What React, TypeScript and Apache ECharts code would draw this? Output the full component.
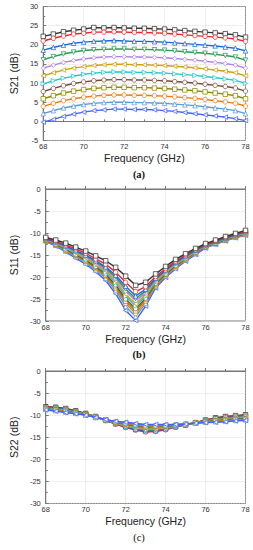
import React, { useEffect, useRef } from "react";
import * as echarts from "echarts";

const freq = [68, 68.5, 69, 69.5, 70, 70.5, 71, 71.5, 72, 72.5, 73, 73.5, 74, 74.5, 75, 75.5, 76, 76.5, 77, 77.5, 78];

const colors = ["#333333", "#e8262b", "#1f66d6", "#2a9a55", "#b07ee8", "#d0a010", "#22c6cc", "#7a4a3a", "#8a8a00", "#f07810", "#5b9bd5", "#3f60ff"];
const symbols = ["rect", "circle", "triangle", "triangle", "diamond", "triangle", "triangle", "circle", "rect", "circle", "triangle", "triangle"];
const rotations = [0, 0, 0, 180, 0, 90, -90, 0, 0, 0, 0, 90];

const s21 = [
  [22.2, 22.8, 23.4, 23.8, 24.1, 24.5, 24.4, 24.5, 24.4, 24.3, 24.3, 24.2, 24.1, 23.9, 23.7, 23.5, 23.3, 23.1, 22.9, 22.6, 22.0],
  [21.0, 21.7, 22.3, 22.8, 23.0, 23.3, 23.3, 23.4, 23.3, 23.2, 23.2, 23.1, 23.0, 22.8, 22.6, 22.4, 22.2, 22.0, 21.8, 21.5, 20.9],
  [18.6, 19.3, 19.9, 20.4, 20.7, 20.9, 21.0, 21.1, 21.0, 20.9, 20.9, 20.8, 20.7, 20.5, 20.3, 20.1, 19.9, 19.7, 19.4, 19.1, 18.4],
  [16.1, 16.9, 17.6, 18.1, 18.5, 18.7, 18.8, 18.9, 18.9, 18.8, 18.8, 18.7, 18.6, 18.4, 18.2, 18.0, 17.8, 17.5, 17.2, 16.8, 16.0],
  [13.9, 14.7, 15.4, 15.9, 16.3, 16.6, 16.8, 16.9, 16.9, 16.8, 16.8, 16.7, 16.6, 16.4, 16.2, 16.0, 15.7, 15.4, 15.1, 14.7, 13.9],
  [11.9, 12.7, 13.4, 13.9, 14.3, 14.6, 14.8, 14.9, 14.9, 14.8, 14.8, 14.7, 14.6, 14.4, 14.2, 14.0, 13.7, 13.4, 13.1, 12.7, 11.9],
  [9.8, 10.6, 11.3, 11.8, 12.3, 12.6, 12.8, 12.9, 12.9, 12.8, 12.8, 12.7, 12.6, 12.4, 12.2, 12.0, 11.7, 11.4, 11.1, 10.7, 9.9],
  [7.8, 8.6, 9.3, 9.9, 10.3, 10.6, 10.8, 10.9, 10.9, 10.8, 10.8, 10.7, 10.6, 10.4, 10.2, 10.0, 9.7, 9.4, 9.1, 8.7, 7.9],
  [5.9, 6.7, 7.4, 7.9, 8.3, 8.6, 8.8, 8.9, 8.9, 8.8, 8.8, 8.7, 8.6, 8.4, 8.2, 8.0, 7.7, 7.4, 7.1, 6.7, 5.9],
  [3.9, 4.7, 5.4, 5.9, 6.3, 6.6, 6.8, 6.9, 6.9, 6.8, 6.8, 6.7, 6.6, 6.4, 6.2, 6.0, 5.7, 5.4, 5.1, 4.7, 4.0],
  [2.0, 2.8, 3.5, 4.0, 4.4, 4.7, 4.9, 5.0, 5.0, 4.9, 4.9, 4.8, 4.7, 4.5, 4.3, 4.1, 3.8, 3.5, 3.2, 2.8, 2.0],
  [-0.2, 0.5, 1.3, 1.9, 2.4, 2.8, 3.0, 3.2, 3.2, 3.1, 3.1, 3.0, 2.8, 2.6, 2.3, 2.0, 1.7, 1.4, 1.1, 0.7, 0.2],
];

const s11 = [
  [-11.0, -11.6, -12.3, -13.2, -14.1, -15.2, -16.3, -17.8, -19.8, -21.9, -21.2, -19.3, -17.6, -16.0, -14.7, -13.5, -12.4, -11.6, -10.8, -10.1, -9.4],
  [-11.2, -11.9, -12.7, -13.6, -14.6, -15.9, -17.1, -18.9, -21.2, -23.3, -22.2, -19.9, -18.1, -16.4, -15.0, -13.8, -12.6, -11.8, -11.0, -10.3, -9.6],
  [-11.3, -12.0, -12.9, -14.0, -15.0, -16.3, -17.7, -19.6, -22.1, -24.3, -22.8, -20.3, -18.4, -16.6, -15.2, -13.9, -12.7, -11.9, -11.1, -10.4, -9.7],
  [-11.3, -12.1, -13.0, -14.1, -15.2, -16.5, -18.0, -20.0, -22.7, -24.9, -23.2, -20.5, -18.5, -16.8, -15.3, -14.0, -12.8, -12.0, -11.2, -10.5, -9.8],
  [-11.4, -12.2, -13.2, -14.3, -15.4, -16.8, -18.3, -20.4, -23.2, -25.4, -23.6, -20.7, -18.7, -16.9, -15.4, -14.1, -12.8, -12.0, -11.2, -10.5, -9.9],
  [-11.5, -12.3, -13.3, -14.5, -15.7, -17.1, -18.6, -20.9, -23.9, -26.1, -24.0, -21.0, -18.9, -17.1, -15.6, -14.2, -12.9, -12.1, -11.3, -10.6, -10.0],
  [-11.5, -12.4, -13.5, -14.7, -15.9, -17.3, -19.0, -21.3, -24.4, -26.6, -24.4, -21.2, -19.1, -17.2, -15.7, -14.3, -13.0, -12.2, -11.4, -10.7, -10.0],
  [-11.6, -12.5, -13.6, -14.9, -16.1, -17.6, -19.3, -21.8, -25.0, -27.2, -24.8, -21.4, -19.3, -17.4, -15.8, -14.4, -13.1, -12.3, -11.5, -10.8, -10.1],
  [-11.7, -12.6, -13.8, -15.0, -16.3, -17.8, -19.6, -22.2, -25.5, -27.7, -25.1, -21.6, -19.4, -17.5, -15.9, -14.5, -13.1, -12.3, -11.5, -10.8, -10.2],
  [-11.7, -12.7, -13.9, -15.2, -16.5, -18.1, -19.9, -22.6, -26.0, -28.3, -25.5, -21.9, -19.6, -17.7, -16.1, -14.6, -13.2, -12.4, -11.6, -10.9, -10.3],
  [-11.8, -12.8, -14.1, -15.4, -16.8, -18.4, -20.3, -23.1, -26.7, -29.0, -26.0, -22.1, -19.8, -17.9, -16.2, -14.7, -13.3, -12.5, -11.7, -11.0, -10.4],
  [-11.9, -13.0, -14.3, -15.7, -17.1, -18.8, -20.8, -23.8, -27.6, -29.9, -26.6, -22.5, -20.1, -18.1, -16.4, -14.9, -13.4, -12.6, -11.8, -11.1, -10.5],
];

const s22 = [
  [-8.1, -8.2, -8.5, -9.0, -9.6, -10.3, -11.1, -11.9, -12.6, -13.2, -13.6, -13.5, -13.1, -12.6, -12.2, -11.7, -11.1, -10.6, -10.3, -10.1, -9.9],
  [-8.2, -8.3, -8.6, -9.1, -9.7, -10.4, -11.2, -12.0, -12.8, -13.4, -13.8, -13.7, -13.3, -12.7, -12.2, -11.7, -11.1, -10.7, -10.4, -10.2, -10.0],
  [-8.3, -8.4, -8.7, -9.2, -9.7, -10.4, -11.2, -11.9, -12.6, -13.2, -13.5, -13.5, -13.1, -12.6, -12.2, -11.7, -11.2, -10.8, -10.6, -10.4, -10.2],
  [-8.4, -8.5, -8.8, -9.3, -9.8, -10.4, -11.2, -11.9, -12.5, -13.0, -13.4, -13.3, -13.0, -12.6, -12.1, -11.7, -11.3, -10.9, -10.7, -10.5, -10.3],
  [-8.4, -8.6, -8.9, -9.3, -9.8, -10.4, -11.1, -11.8, -12.4, -12.9, -13.2, -13.1, -12.9, -12.5, -12.1, -11.7, -11.3, -11.0, -10.8, -10.6, -10.4],
  [-8.5, -8.7, -9.0, -9.4, -9.8, -10.4, -11.1, -11.7, -12.3, -12.7, -13.0, -13.0, -12.8, -12.4, -12.1, -11.7, -11.4, -11.1, -10.9, -10.7, -10.5],
  [-8.5, -8.7, -9.0, -9.4, -9.9, -10.5, -11.1, -11.7, -12.1, -12.6, -12.9, -12.8, -12.6, -12.4, -12.1, -11.8, -11.4, -11.2, -11.0, -10.8, -10.7],
  [-8.6, -8.8, -9.1, -9.5, -9.9, -10.5, -11.1, -11.6, -12.0, -12.4, -12.7, -12.6, -12.5, -12.3, -12.1, -11.8, -11.5, -11.3, -11.1, -10.9, -10.8],
  [-8.6, -8.9, -9.2, -9.5, -9.9, -10.5, -11.1, -11.6, -11.9, -12.3, -12.6, -12.5, -12.4, -12.3, -12.1, -11.8, -11.5, -11.3, -11.2, -11.0, -10.9],
  [-8.7, -8.9, -9.2, -9.6, -10.0, -10.5, -11.0, -11.5, -11.8, -12.2, -12.4, -12.4, -12.3, -12.2, -12.0, -11.8, -11.6, -11.4, -11.3, -11.1, -11.0],
  [-8.7, -9.0, -9.3, -9.6, -10.0, -10.5, -11.0, -11.4, -11.7, -12.0, -12.2, -12.2, -12.2, -12.1, -12.0, -11.8, -11.6, -11.5, -11.4, -11.2, -11.1],
  [-8.8, -9.1, -9.4, -9.7, -10.0, -10.5, -11.0, -11.4, -11.6, -11.9, -12.1, -12.1, -12.1, -12.1, -12.0, -11.8, -11.7, -11.6, -11.5, -11.3, -11.2],
];

const panelNames = ["S21 (dB)", "S11 (dB)", "S22 (dB)"];
const panelCaptions = ["(a)", "(b)", "(c)"];
const yRanges = [[-5, 30], [-30, 0], [-30, 0]];
const xLabel = "Frequency (GHz)";

const grids = [
  { left: 31.5, top: 6.5, width: 214, height: 134 },
  { left: 33.5, top: 189, width: 212, height: 132 },
  { left: 34.5, top: 371, width: 211, height: 132.5 },
];
const captionY = [174, 354, 537];

export default function App() {
  const ref = useRef<HTMLDivElement>(null);
  useEffect(() => {
    if (!ref.current) return;
    const chart = echarts.init(ref.current, null, { renderer: "svg" });
    const font = "'Liberation Sans', Arial, sans-serif";
    const datasets = [s21, s11, s22];
    const series: any[] = [];
    datasets.forEach((ds, gi) => {
      ds.forEach((vals, k) => {
        series.push({
          type: "line",
          xAxisIndex: gi,
          yAxisIndex: gi,
          data: freq.map((f, i) => [f, vals[i]]),
          symbol: symbols[k],
          symbolRotate: rotations[k],
          symbolSize: 4.5,
          showSymbol: true,
          lineStyle: { color: colors[k], width: 1.4 },
          itemStyle: { color: "#ffffff", borderColor: colors[k], borderWidth: 0.8, opacity: 0.95 },
          z: 2 + (gi === 1 ? 12 - k : k),
        });
      });
    });
    chart.setOption({
      animation: false,
      grid: grids.map((g) => ({ ...g, show: true, borderColor: "#777", borderWidth: 1, backgroundColor: "#fff" })),
      xAxis: grids.map((_, gi) => ({
        type: "value",
        gridIndex: gi,
        min: 68,
        max: 78,
        interval: 2,
        name: xLabel,
        nameLocation: "middle",
        nameGap: 12,
        nameTextStyle: { fontFamily: font, fontSize: 10.5, color: "#222" },
        axisLine: { show: true, lineStyle: { color: "#777", width: 1 } },
        axisTick: { show: true, inside: true, length: 3, lineStyle: { color: "#777" } },
        minorTick: { show: true, splitNumber: 2, length: 2, lineStyle: { color: "#777" } },
        axisLabel: { fontFamily: font, fontSize: 7.5, color: "#333", margin: 2 },
        splitLine: { show: true, lineStyle: { color: "#d4d4d4", type: "dotted", width: 0.8 } },
      })),
      yAxis: grids.map((_, gi) => ({
        type: "value",
        gridIndex: gi,
        min: yRanges[gi][0],
        max: yRanges[gi][1],
        interval: 5,
        name: panelNames[gi],
        nameLocation: "middle",
        nameGap: 17,
        nameTextStyle: { fontFamily: font, fontSize: 10.5, color: "#222" },
        axisLine: { show: true, lineStyle: { color: "#777", width: 1 } },
        axisTick: { show: true, inside: true, length: 3, lineStyle: { color: "#777" } },
        minorTick: { show: true, splitNumber: 2, length: 2, lineStyle: { color: "#777" } },
        axisLabel: { fontFamily: font, fontSize: 7.5, color: "#333", margin: 5 },
        splitLine: { show: true, lineStyle: { color: "#d4d4d4", type: "dotted", width: 0.8 } },
      })),
      graphic: panelCaptions.map((c, i) => ({
        type: "text",
        x: 139,
        y: captionY[i],
        style: {
          text: c,
          fontFamily: "'Liberation Serif', 'Times New Roman', serif",
          fontWeight: i === 2 ? "normal" : "bold",
          fontSize: 10.5,
          fill: "#111",
          align: "center",
          verticalAlign: "middle",
        },
      })),
      series,
    });
    return () => chart.dispose();
  }, []);
  return <div ref={ref} style={{ position: "absolute", left: 0, top: 0, width: 253, height: 550 }} />;
}
